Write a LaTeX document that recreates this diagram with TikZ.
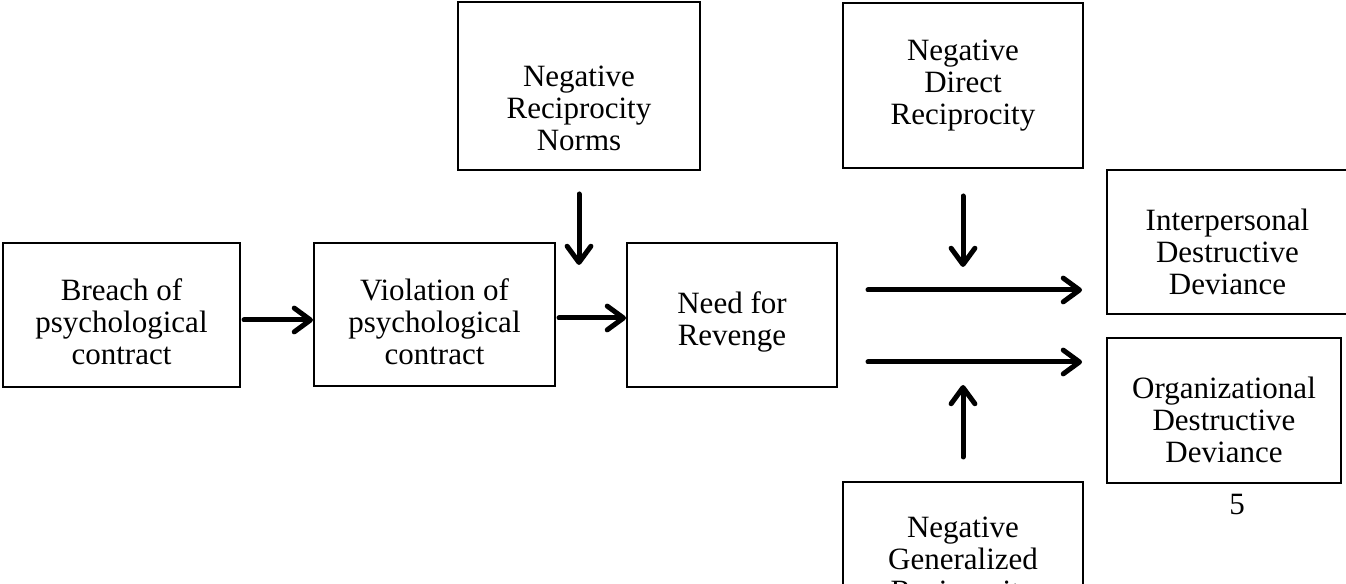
\documentclass[tikz,border=0pt]{standalone}
\usepackage{fontspec}
\setmainfont{Liberation Serif}
\usetikzlibrary{arrows.meta}
\newcommand\topstrut[1]{\rule{0pt}{#1}}
\begin{document}
\begin{tikzpicture}[x=0.4pt,y=-0.4pt,
  box/.style={draw,line width=0.8pt,align=center,inner sep=0pt,font=\fontsize{12.4}{12.8}\selectfont},
  arr/.style={line width=2pt,line cap=round,-{Straight Barb[length=6.5pt,width=9.5pt,line join=round,line cap=round]}}]
\useasboundingbox (0,0) rectangle (1346,584);
\node[box,minimum width=94.8pt,minimum height=57.6pt] (breach) at (121.5,315) {\topstrut{14pt}Breach of\\psychological\\contract};
\node[box,minimum width=96.4pt,minimum height=57.2pt] (violation) at (434.5,315) {\topstrut{14pt}Violation of\\psychological\\contract};
\node[box,minimum width=84pt,minimum height=57.6pt] (revenge) at (732,315) {\topstrut{14pt}Need for\\Revenge};
\node[box,minimum width=96.8pt,minimum height=67.2pt] (norms) at (579,86) {\topstrut{26pt}Negative\\Reciprocity\\Norms};
\node[box,minimum width=96pt,minimum height=66pt] (direct) at (963,85.5) {Negative\\Direct\\Reciprocity};
\node[box,minimum width=96pt,minimum height=64.8pt] (general) at (963,563) {Negative\\Generalized\\Reciprocity};
\node[box,minimum width=96.4pt,minimum height=57.6pt] (interpersonal) at (1227.5,242) {\topstrut{16.5pt}Interpersonal\\Destructive\\Deviance};
\node[box,minimum width=93.6pt,minimum height=58pt] (organizational) at (1224,410.5) {\topstrut{16.5pt}Organizational\\Destructive\\Deviance};
\coordinate (normsend) at (579,265);
\coordinate (directend) at (963,267);
\coordinate (idd) at (1082,290);
\coordinate (odd) at (1082,362);
\coordinate (generalend) at (963,385);
\draw[arr,shorten <=1.2pt] ([yshift=-2pt]breach.east) -- ([yshift=-2pt]violation.west);
\draw[arr,shorten <=1.2pt] ([yshift=-1.2pt]violation.east) -- ([yshift=-1.2pt]revenge.west);
\draw[arr,shorten <=9.2pt] (norms.south) -- (normsend);
\draw[arr,shorten <=10.8pt] (direct.south) -- (directend);
\draw[arr,shorten <=12pt] (revenge.east |- idd) -- (idd);
\draw[arr,shorten <=12pt] (revenge.east |- odd) -- (odd);
\draw[arr,shorten <=9.6pt] (general.north) -- (generalend);
\node[font=\fontsize{12.4}{12.8}\selectfont] (page) at (1237,505) {5};
\end{tikzpicture}
\end{document}
